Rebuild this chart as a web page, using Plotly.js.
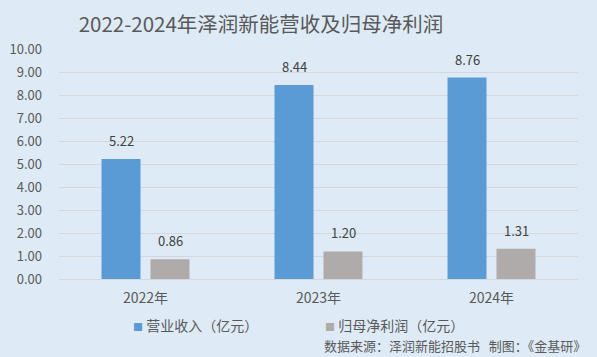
<!DOCTYPE html>
<html>
<head>
<meta charset="utf-8">
<script src="https://cdn.plot.ly/plotly-3.0.1.min.js"></script>
<style>html,body{margin:0;padding:0;background:#DEEBF7;}#chart{width:597px;height:357px;}</style>
</head>
<body>
<div id="chart"></div>
<script>
const categories = ['2022年', '2023年', '2024年'];
const revenue = [5.22, 8.44, 8.76];
const netProfit = [0.86, 1.20, 1.31];
const seriesNames = ['营业收入（亿元）', '归母净利润（亿元）'];
const yTicks = [0, 1, 2, 3, 4, 5, 6, 7, 8, 9, 10];
const titleText = '2022-2024年泽润新能营收及归母净利润';
const sourceText = '数据来源：泽润新能招股书&nbsp;&nbsp;&nbsp;制图：《金基研》';

const FONT = '"Noto Sans CJK SC", "Noto Sans", sans-serif';
const colors = ['#5B9BD5', '#AFABAB'];

const traces = [
  {type: 'bar', name: seriesNames[0], x: categories, y: revenue, marker: {color: colors[0]}, hoverinfo: 'none', showlegend: false},
  {type: 'bar', name: seriesNames[1], x: categories, y: netProfit, marker: {color: colors[1]}, hoverinfo: 'none', showlegend: false}
];

const annotations = [];
[[revenue, -24.5], [netProfit, 25]].forEach(([vals, dx]) => {
  vals.forEach((v, i) => annotations.push({
    x: categories[i], y: v, xref: 'x', yref: 'y', text: v.toFixed(2), showarrow: false,
    xshift: dx, yshift: 7, yanchor: 'bottom', font: {family: FONT, size: 13, color: '#404040'}
  }));
});
// legend entries (drawn as text with a coloured square)
const legendX = [131, 323];
seriesNames.forEach((nm, i) => annotations.push({
  xref: 'paper', yref: 'paper', x: (legendX[i] - 59) / 519, y: -(325 - 279) / 230, xanchor: 'left', yanchor: 'middle',
  text: '<span style="color:' + colors[i] + ';font-size:10px">■</span> ' + nm, showarrow: false,
  font: {family: FONT, size: 14, color: '#595959'}
}));
annotations.push({
  xref: 'paper', yref: 'paper', x: (588 - 59) / 519, y: -(346 - 279) / 230, xanchor: 'right', yanchor: 'middle',
  text: sourceText, showarrow: false, font: {family: FONT, size: 13, color: '#595959'}
});

const layout = {
  width: 597, height: 357,
  paper_bgcolor: '#DEEBF7', plot_bgcolor: '#DEEBF7',
  margin: {l: 59, r: 19, t: 49, b: 78, pad: 0},
  title: {text: titleText, font: {family: FONT, size: 20.5, color: '#595959'}, x: 261 / 597, xanchor: 'center', xref: 'container', y: 1 - 25 / 357, yanchor: 'middle', yref: 'container'},
  barmode: 'group', bargap: 0.434, bargroupgap: 0.204,
  xaxis: {
    type: 'category', showgrid: false, zeroline: false, showline: false, ticks: '',
    tickfont: {family: FONT, size: 14, color: '#595959'}, ticklabelstandoff: 9
  },
  yaxis: {
    range: [0, 10], tickvals: yTicks, ticktext: yTicks.map(v => v.toFixed(2)),
    showgrid: true, gridcolor: '#D4D8DC', gridwidth: 1, zeroline: true, zerolinecolor: '#D4D8DC', zerolinewidth: 1,
    showline: false, ticks: '', tickfont: {family: FONT, size: 13, color: '#595959'}, ticklabelstandoff: 16
  },
  showlegend: false,
  annotations: annotations,
  font: {family: FONT}
};

Plotly.newPlot('chart', traces, layout, {displayModeBar: false, staticPlot: true});
</script>
</body>
</html>
